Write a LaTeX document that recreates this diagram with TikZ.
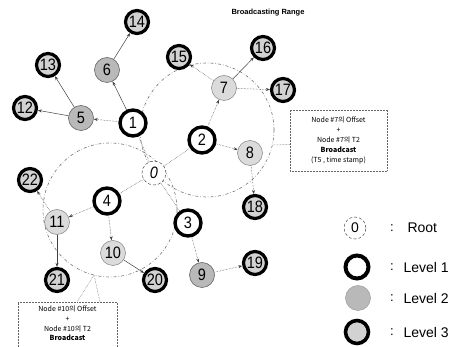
\documentclass[tikz,border=0pt]{standalone}
\usepackage{fontspec}
\setmainfont{Liberation Sans}
\newfontfamily\numfont[FakeStretch=0.88]{Liberation Sans}
\newfontfamily\kr{Noto Sans CJK KR}
\usetikzlibrary{arrows.meta}
\begin{document}
\begin{tikzpicture}[x=1pt,y=-1pt,
  nbase/.style={circle,inner sep=0pt,font=\numfont\fontsize{16.5}{16.5}\selectfont},
  rootnode/.style={nbase,draw=black!70,densely dashed,line width=0.5pt,fill=white,minimum size=24pt},
  lvone/.style={nbase,draw=black,line width=3.4pt,fill=white,minimum size=26pt},
  lvtwo/.style={nbase,draw=black!60,line width=0.6pt,fill=gray!55,minimum size=25pt},
  lvtwol/.style={nbase,draw=black!50,line width=0.5pt,fill=gray!28,minimum size=25pt},
  lvthree/.style={nbase,draw=black,line width=3.2pt,fill=gray!35,minimum size=23pt},
  tedge/.style={draw=black!75,line width=0.5pt,-{Stealth[length=4pt,width=3pt]}},
  tdedge/.style={tedge,densely dotted},
  rootedge/.style={draw=black!70,line width=0.5pt,densely dotted},
  bcrange/.style={draw=black!55,line width=0.6pt,dash dot},
  callbox/.style={draw=black!60,line width=0.5pt,densely dotted,fill=white,align=center,
    font=\kr\fontsize{7}{9.8}\selectfont,inner sep=2pt},
  callline/.style={draw=black!60,line width=0.5pt,densely dotted},
  legtext/.style={anchor=west,font=\fontsize{14}{14}\selectfont},
  colon/.style={font=\fontsize{13}{13}\selectfont}
]
\useasboundingbox (0,0) rectangle (461,347);

% broadcasting ranges
\draw[bcrange] (207,130) circle (67);
\draw[bcrange] (110,210) circle (67);

% title
\node[font=\bfseries\fontsize{7.5}{8}\selectfont] (title) at (268,13) {Broadcasting Range};

% nodes
\node[rootnode] (n0) at (154,173) {\itshape 0};
\node[lvone] (n1) at (133,123) {1};
\node[lvone] (n2) at (202,140) {2};
\node[lvone] (n3) at (188,223) {3};
\node[lvone] (n4) at (107,201) {4};
\node[lvtwo] (n5) at (81,118) {5};
\node[lvtwo] (n6) at (107,70) {6};
\node[lvtwol] (n7) at (224,88) {7};
\node[lvtwol] (n8) at (250,153) {8};
\node[lvtwo] (n9) at (202,275) {9};
\node[lvtwol] (n10) at (113,253) {10};
\node[lvtwol] (n11) at (57,222) {11};
\node[lvthree] (n12) at (25,108) {12};
\node[lvthree] (n13) at (48,65) {13};
\node[lvthree] (n14) at (137,22) {14};
\node[lvthree] (n15) at (179,57) {15};
\node[lvthree] (n16) at (263,48) {16};
\node[lvthree] (n17) at (283,90) {17};
\node[lvthree] (n18) at (255,207) {18};
\node[lvthree] (n19) at (255,263) {19};
\node[lvthree] (n20) at (155,280) {20};
\node[lvthree] (n21) at (57,280) {21};
\node[lvthree] (n22) at (30,180) {22};

% edges
\draw[rootedge] (n0) -- (n1);
\draw[rootedge] (n0) -- (n2);
\draw[rootedge] (n0) -- (n3);
\draw[rootedge] (n0) -- (n4);
\draw[tdedge] (n1) -- (n5);
\draw[tedge] (n1) -- (n6);
\draw[tedge] (n5) -- (n12);
\draw[tedge] (n5) -- (n13);
\draw[tedge] (n6) -- (n14);
\draw[tdedge] (n2) -- (n7);
\draw[tdedge] (n2) -- (n8);
\draw[tdedge] (n7) -- (n15);
\draw[tedge] (n7) -- (n16);
\draw[tdedge] (n7) -- (n17);
\draw[tdedge] (n8) -- (n18);
\draw[tdedge] (n3) -- (n9);
\draw[tdedge] (n9) -- (n19);
\draw[tdedge] (n4) -- (n11);
\draw[tdedge] (n4) -- (n10);
\draw[tdedge] (n11) -- (n22);
\draw[tedge] (n11) -- (n21);
\draw[tedge] (n10) -- (n20);

% callouts
\node[callbox,minimum width=97pt,minimum height=61pt] (ubox) at (338.5,140.5)
  {Node \#7의 Offset\\+\\Node \#7의 T2\\{\bfseries Broadcast}\\(T5 , time stamp)};
\coordinate (up) at (273,145);
\draw[callline] ([yshift=-4pt]ubox.west) -- (up);

\node[callbox,anchor=north,minimum width=99pt,minimum height=55pt] (lbox) at (67.5,302)
  {Node \#10의 Offset\\+\\Node \#10의 T2\\{\bfseries Broadcast}\\\strut};
\coordinate (lp) at (94,275);
\draw[callline] ([xshift=9.5pt]lbox.north) -- (lp);
\draw[callline] ([xshift=32.5pt]lbox.north) -- (lp);

% legend
\node[rootnode,minimum size=22pt,font=\fontsize{14}{14}\selectfont] (lg0) at (355,228) {0};
\node[nbase,draw=black,line width=4pt,fill=white,minimum size=23pt] (lg1) at (357,267) {};
\node[nbase,draw=black!40,line width=0.5pt,fill=gray!55,minimum size=25pt] (lg2) at (358,298) {};
\node[nbase,draw=black,line width=3.6pt,fill=gray!35,minimum size=23pt] (lg3) at (357,332) {};
\node[colon] (c0) at (392,228) {:};
\node[colon] (c1) at (392,267) {:};
\node[colon] (c2) at (392,298) {:};
\node[colon] (c3) at (392,332) {:};
\node[legtext] (t0) at (404,228) {Root};
\node[legtext] (t1) at (400,267) {Level 1};
\node[legtext] (t2) at (400,298) {Level 2};
\node[legtext] (t3) at (400,332) {Level 3};
\end{tikzpicture}
\end{document}
